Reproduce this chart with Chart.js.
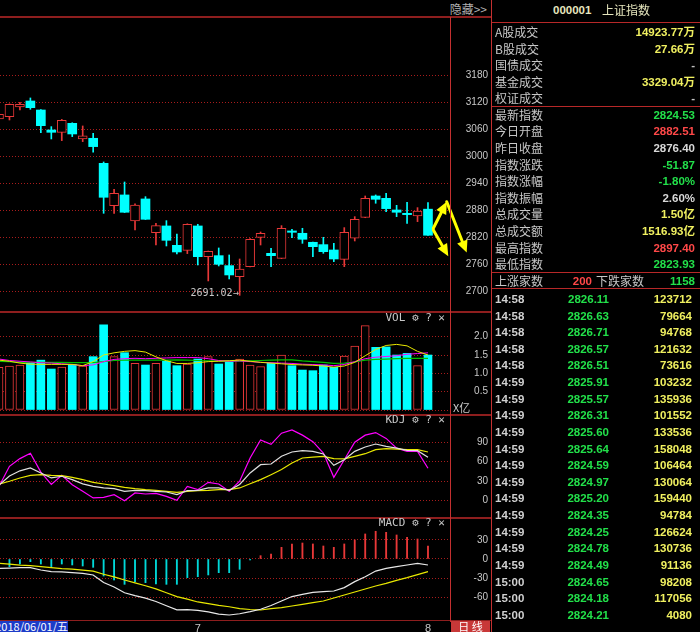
<!DOCTYPE html>
<html>
<head>
<meta charset="utf-8">
<title>上证指数 日线</title>
<script src="https://cdn.jsdelivr.net/npm/chart.js@4.4.1/dist/chart.umd.min.js"></script>
<style>
  html, body { margin: 0; padding: 0; background: #000; }
  body { width: 700px; height: 632px; position: relative; overflow: hidden;
         font-family: "Noto Sans CJK SC", "DejaVu Sans", sans-serif; color: #c0c0c0; }
  canvas { position: absolute; left: 0; }
  .abs { position: absolute; white-space: nowrap; }
  .sep { position: absolute; background: #8e1e1e; }
  .vline { position: absolute; background: #c43030; width: 1px; }
  .rline { position: absolute; background: #b82828; height: 1px; left: 492px; width: 208px; }
  .num { font-family: "Liberation Sans", "Noto Sans CJK SC", sans-serif; font-weight: bold; font-size: 11.5px; }
  .cjk { font-size: 12px; }
  .ptitle { position: absolute; right: 255px; font: 11px "DejaVu Sans Mono", monospace; color: #c8c8c8; line-height: 12px; }
</style>
</head>
<body>
<div class="abs" style="left:0;top:0;width:487px;height:17px;line-height:17px;text-align:right;font-size:12px;color:#b0b0b0">隐藏&gt;&gt;</div>

<canvas id="kline" width="492" height="294" style="top:18px"></canvas>
<canvas id="vol" width="492" height="101" style="top:313px"></canvas>
<canvas id="kdj" width="492" height="102" style="top:416px"></canvas>
<canvas id="macd" width="492" height="113" style="top:519px"></canvas>

<div class="sep" style="left:0;top:16px;width:491px;height:2px"></div>
<div class="sep" style="left:0;top:311px;width:491px;height:2px"></div>
<div class="sep" style="left:0;top:414px;width:491px;height:2px"></div>
<div class="sep" style="left:0;top:517px;width:491px;height:2px"></div>
<div class="sep" style="left:0;top:620px;width:491px;height:1px"></div>
<div class="vline" style="left:450px;top:17px;height:604px"></div>
<div class="vline" style="left:491px;top:0;height:632px"></div>

<div class="ptitle" style="top:312px">VOL ⚙ ? ✕</div>
<div class="ptitle" style="top:414px">KDJ ⚙ ? ✕</div>
<div class="ptitle" style="top:517px">MACD ⚙ ? ✕</div>
<div class="abs" style="left:453px;top:400px;font-size:11px;line-height:14px;color:#c8c8c8">X亿</div>

<div class="abs" id="cursorDate" style="left:0;top:621px;width:68px;height:11px;line-height:11px;background:#1c3cc8;color:#fff;font-size:11px;text-align:right;overflow:hidden;direction:rtl"></div>
<div class="abs" style="left:451px;top:621px;width:39px;height:11px;line-height:11px;background:#c83838;color:#fff;font-size:11px;text-align:center">日 线</div>

<div class="rline" style="top:22px"></div>
<div class="rline" style="top:106px"></div>
<div class="rline" style="top:272px"></div>
<div class="rline" style="top:288px"></div>
<div id="quote"></div>

<script>
// ---------- data ----------
const cursorDate = '2018/06/01/五';
const dates = [
  '2018-06-04','2018-06-05','2018-06-06','2018-06-07','2018-06-08','2018-06-11','2018-06-12','2018-06-13','2018-06-14','2018-06-15',
  '2018-06-19','2018-06-20','2018-06-21','2018-06-22','2018-06-25','2018-06-26','2018-06-27','2018-06-28','2018-06-29',
  '2018-07-02','2018-07-03','2018-07-04','2018-07-05','2018-07-06','2018-07-09','2018-07-10','2018-07-11','2018-07-12','2018-07-13',
  '2018-07-16','2018-07-17','2018-07-18','2018-07-19','2018-07-20','2018-07-23','2018-07-24','2018-07-25','2018-07-26','2018-07-27',
  '2018-07-30','2018-07-31','2018-08-01'
];
const opens = [3082.9,3088.1,3109.6,3122.9,3102.9,3058.5,3053.3,3073.3,3038.5,3040.0,
  2984.4,2890.4,2914.1,2856.3,2905.2,2830.4,2845.2,2802.2,2791.1,2845.2,
  2777.0,2779.2,2757.0,2732.6,2754.8,2820.0,2784.4,2773.3,2834.1,2828.9,
  2808.9,2803.7,2791.8,2771.1,2817.8,2864.4,2911.8,2906.6,2880.7,2873.3,
  2867.4,2882.51];
const highs = [3095.0,3116.5,3120.0,3129.6,3104.0,3065.9,3082.0,3074.5,3067.4,3051.1,
  2987.4,2926.6,2942.9,2894.1,2910.3,2851.1,2857.0,2827.4,2850.0,2848.9,
  2789.5,2796.3,2780.7,2771.8,2817.0,2831.8,2795.6,2845.9,2837.8,2840.0,
  2809.5,2820.0,2806.6,2841.5,2865.9,2911.8,2914.1,2917.8,2891.1,2897.8,
  2885.9,2897.40];
const lows = [3080.0,3080.7,3102.9,3104.4,3052.6,3038.5,3034.8,3043.7,3032.6,3008.9,
  2873.3,2873.3,2875.0,2836.3,2859.5,2802.9,2800.7,2782.9,2783.7,2758.5,
  2723.0,2756.3,2727.4,2691.02,2754.0,2802.9,2754.8,2772.5,2819.2,2806.6,
  2777.0,2784.4,2765.9,2754.8,2811.8,2863.5,2895.6,2877.0,2865.9,2851.1,
  2854.8,2823.93];
const closes = [3093.3,3115.5,3115.5,3108.1,3068.1,3053.3,3080.0,3049.6,3045.2,3021.5,
  2908.9,2917.8,2875.6,2891.8,2860.0,2845.9,2813.3,2787.4,2848.9,2777.0,
  2788.9,2760.0,2736.3,2749.6,2815.6,2828.9,2779.2,2840.0,2831.1,2815.6,
  2799.2,2788.1,2771.8,2831.1,2860.0,2906.6,2904.4,2883.7,2875.6,2870.4,
  2878.5,2824.53];

// volume in 亿
const volumes = [1.165,1.20,1.227,1.30,1.36,1.118,1.173,1.245,1.20,1.455,
  2.32,1.455,1.564,1.273,1.227,1.273,1.336,1.209,1.255,1.39,
  1.455,1.255,1.318,1.39,1.227,1.182,1.273,1.50,1.209,1.09,
  1.073,1.227,1.164,1.473,1.745,2.30,1.71,1.72,1.50,1.545,
  1.209,1.50];
const volMa5 = [1.36,1.33,1.28,1.25,1.245,1.245,1.245,1.245,1.21,1.32,
  1.50,1.56,1.60,1.62,1.58,1.45,1.345,1.27,1.27,1.29,
  1.32,1.33,1.345,1.36,1.33,1.30,1.28,1.26,1.24,1.23,
  1.22,1.20,1.17,1.20,1.30,1.48,1.65,1.76,1.79,1.75,
  1.60,1.50];
const volMa10 = [1.39,1.35,1.33,1.31,1.29,1.28,1.26,1.24,1.21,1.23,
  1.32,1.38,1.40,1.41,1.40,1.41,1.42,1.43,1.43,1.43,
  1.40,1.35,1.33,1.34,1.32,1.30,1.29,1.28,1.27,1.25,
  1.24,1.23,1.21,1.24,1.32,1.40,1.44,1.46,1.48,1.52,
  1.54,1.56];
const volMa20 = [1.33,1.32,1.30,1.30,1.30,1.30,1.30,1.29,1.29,1.29,
  1.32,1.35,1.36,1.36,1.36,1.36,1.36,1.37,1.36,1.35,
  1.34,1.34,1.33,1.33,1.34,1.35,1.36,1.37,1.37,1.34,
  1.32,1.30,1.27,1.28,1.31,1.36,1.38,1.39,1.40,1.41,
  1.41,1.41];

const kdjK = [24,38,46,50.4,42.7,35,37.6,32.4,26,22,
  19.6,18.5,14.4,16,15.4,14.4,13.4,9.3,15.4,16,
  19.6,19.6,16,25,42.7,55.5,56.5,68.4,75,77,
  76,72,54.5,63,76,82.7,87.3,83.7,81,77.6,
  77,67];
const kdjD = [25.5,30,35,39,40.2,39,38.6,36,32.4,28.3,
  25.7,23.1,20.5,18.5,17,16,14.4,12.9,14.4,15.4,
  16,17,17,19.6,26,32.4,40,48,58,65.8,
  67,68.4,64.8,64.3,68.4,72.4,78.6,80.2,79.6,78.6,
  78.6,75];
const kdjJ = [22,53,64.8,73,44,25,39,24.7,14.4,4.2,
  5.2,9.3,0,11.9,10.3,11.3,6.7,0.5,22,17,
  28.3,25.7,14.4,30,65.8,93.5,86.9,104,109,101,
  91,73.5,36,63,90,101,105,96,81,76,
  76,50];

const macdDif = [-14.7,-14.2,-13.5,-13.5,-17.3,-19.9,-20.4,-21.5,-22.5,-25.1,
  -37,-44,-53,-57.5,-61.5,-66.7,-73.5,-80,-79.5,-80.7,
  -83.2,-86.5,-88,-86,-82.7,-79,-73,-66,-59,-55.5,
  -52.4,-51.3,-50.3,-45,-35.6,-27.8,-19,-14.7,-12,-9.4,
  -6.8,-9.4];
const macdDea = [-6.8,-8,-9.5,-10.5,-12,-13.6,-15,-16,-17.5,-19,
  -24,-28,-33,-37.6,-42,-47,-53,-59.2,-63,-67.5,
  -70,-72.8,-75,-78,-79.3,-80.1,-78,-76.5,-73.8,-71.2,
  -68.6,-66,-61.3,-56.6,-51.8,-47.1,-42.4,-38.2,-33.5,-29.3,
  -24.6,-19.9];
const macdBar = [-10,-12,-7.9,-4.2,-7.9,-12,-7.9,-9.4,-11,-13.1,
  -26.7,-33,-39.8,-35.6,-37.2,-39.3,-39.8,-39.8,-29.3,-27.8,
  -25.1,-21.5,-21.5,-16.2,-1.5,5.2,7.9,18.3,23.6,25.1,
  23.6,20.4,18.3,23.6,29.9,39.3,43.5,41.9,37.7,34,
  31.4,20.4];

const priceTicks = [2700, 2760, 2820, 2880, 2940, 3000, 3060, 3120, 3180];
const volTicks = [0, 0.5, 1.0, 1.5, 2.0];
const kdjTicks = [0, 30, 60, 90];
const macdTicks = [-60, -30, 0, 30];

// hand-drawn arrows on the last candle, in (index, price) units
const arrows = [
  { from: [41.51, 2840], to: [42.79, 2899] },
  { from: [41.51, 2836], to: [42.94, 2778] },
  { from: [42.79, 2899], to: [44.70, 2786] }
];

// quote panel
const stockCode = '000001';
const stockName = '上证指数';
const tradeLabels = ['A股成交', 'B股成交', '国债成交', '基金成交', '权证成交'];
const tradeValues = ['14923.77万', '27.66万', '-', '3329.04万', '-'];
const indexLabels = ['最新指数', '今日开盘', '昨日收盘', '指数涨跌', '指数涨幅', '指数振幅', '总成交量', '总成交额', '最高指数', '最低指数'];
const indexValues = ['2824.53', '2882.51', '2876.40', '-51.87', '-1.80%', '2.60%', '1.50亿', '1516.93亿', '2897.40', '2823.93'];
const indexKinds = ['down', 'up', 'flat', 'down', 'down', 'flat', 'vol', 'vol', 'up', 'down'];
const advancers = 200;
const decliners = 1158;
const tickTimes = ['14:58','14:58','14:58','14:58','14:58','14:59','14:59','14:59','14:59','14:59',
  '14:59','14:59','14:59','14:59','14:59','14:59','14:59','15:00','15:00','15:00'];
const tickPrices = ['2826.11','2826.63','2826.71','2826.57','2826.51','2825.91','2825.57','2826.31','2825.60','2825.64',
  '2824.59','2824.97','2825.20','2824.35','2824.25','2824.78','2824.49','2824.65','2824.18','2824.21'];
const tickVols = [123712, 79664, 94768, 121632, 73616, 103232, 135936, 101552, 133536, 158048,
  106464, 130064, 159440, 94784, 126624, 130736, 91136, 98208, 117056, 4080];

// ---------- styles ----------
const UP = '#e83838';
const DOWN = '#00ffff';
const GRID_RED = '#a81c1c';
const AXIS_RED = '#c43030';
const LABEL = '#c8c8c8';
const X_MIN = 0.0956, X_MAX = 43.104;

Chart.defaults.font.family = 'Liberation Sans';

const isUp = opens.map((o, i) => closes[i] >= o);
const monthStarts = dates.map((d, i) => i).filter(i => i > 0 && dates[i].slice(5, 7) !== dates[i - 1].slice(5, 7));

function xAxis(show) {
  return {
    type: 'linear', min: X_MIN, max: X_MAX, offset: false, display: show,
    grid: { display: false, drawTicks: false, offset: false },
    border: { display: false },
    afterBuildTicks: s => { s.ticks = monthStarts.map(i => ({ value: i })); },
    afterFit: s => {
      s.height = show ? 11 : 0;
      s.paddingLeft = 0; s.paddingRight = 0;
    },
    ticks: {
      color: LABEL, padding: 1, autoSkip: false, maxRotation: 0,
      font: { size: 11 },
      callback: v => String(parseInt(dates[v].slice(5, 7), 10))
    }
  };
}

function yAxis(min, max, values, fmt) {
  return {
    type: 'linear', position: 'right', min, max, beginAtZero: false,
    afterBuildTicks: s => { s.ticks = values.map(v => ({ value: v })); },
    afterFit: s => { s.width = 38; s.paddingTop = 0; s.paddingBottom = 0; },
    grid: { color: GRID_RED, lineWidth: 1, drawTicks: false },
    border: { display: true, color: AXIS_RED, width: 1, dash: [1, 2] },
    ticks: { color: LABEL, padding: 0, crossAlign: 'far', autoSkip: false, font: { size: 10 }, callback: fmt }
  };
}

function baseOptions(scales) {
  return {
    responsive: false, animation: false, events: [],
    layout: { padding: { left: 0, right: 4, top: 0, bottom: 0 } },
    plugins: { legend: { display: false }, tooltip: { enabled: false } },
    scales
  };
}

function line(data, color, width) {
  return {
    type: 'line', data: data.map((v, i) => ({ x: i, y: v })),
    borderColor: color, borderWidth: width || 1, pointRadius: 0, tension: 0, fill: false
  };
}

// lowest low label with arrow
const lowLabel = {
  id: 'lowLabel',
  afterDatasetsDraw(chart) {
    let idx = 0;
    lows.forEach((v, i) => { if (v < lows[idx]) idx = i; });
    const x = chart.scales.x.getPixelForValue(idx);
    const y = chart.scales.y.getPixelForValue(lows[idx]);
    const ctx = chart.ctx;
    ctx.save();
    ctx.font = '10px "DejaVu Sans Mono", monospace';
    ctx.fillStyle = LABEL;
    ctx.textAlign = 'right';
    ctx.textBaseline = 'middle';
    ctx.fillText(lows[idx].toFixed(2) + '→', x - 1, y - 2);
    ctx.restore();
  }
};

const arrowMarks = {
  id: 'arrowMarks',
  afterDraw(chart) {
    const { ctx, scales: { x, y } } = chart;
    ctx.save();
    ctx.strokeStyle = '#ffff00';
    ctx.fillStyle = '#ffff00';
    ctx.lineCap = 'round';
    arrows.forEach(a => {
      const x1 = x.getPixelForValue(a.from[0]), y1 = y.getPixelForValue(a.from[1]);
      const x2 = x.getPixelForValue(a.to[0]), y2 = y.getPixelForValue(a.to[1]);
      const ang = Math.atan2(y2 - y1, x2 - x1);
      const head = 12, half = 5.5;
      const bx = x2 - head * Math.cos(ang), by = y2 - head * Math.sin(ang);
      ctx.lineWidth = 3;
      ctx.beginPath(); ctx.moveTo(x1, y1); ctx.lineTo(bx, by); ctx.stroke();
      ctx.beginPath();
      ctx.moveTo(x2, y2);
      ctx.lineTo(bx + half * Math.sin(ang), by - half * Math.cos(ang));
      ctx.lineTo(bx - half * Math.sin(ang), by + half * Math.cos(ang));
      ctx.closePath();
      ctx.fill();
    });
    ctx.restore();
  }
};

// ---------- K line ----------
new Chart(document.getElementById('kline'), {
  type: 'bar',
  data: {
    datasets: [
      {
        data: opens.map((o, i) => ({ x: i, y: [o, closes[i]] })),
        backgroundColor: isUp.map(u => u ? '#000' : DOWN),
        borderColor: isUp.map(u => u ? UP : DOWN),
        borderWidth: isUp.map(u => u ? 1 : 0),
        borderSkipped: false, barThickness: 9, grouped: false, minBarLength: 1
      },
      {
        data: lows.map((l, i) => ({ x: i, y: [l, highs[i]] })),
        backgroundColor: isUp.map(u => u ? UP : DOWN),
        borderWidth: 0, barThickness: 1, grouped: false
      }
    ]
  },
  options: baseOptions({
    x: xAxis(false),
    y: yAxis(2654.0, 3307.3, priceTicks, v => String(v))
  }),
  plugins: [lowLabel, arrowMarks]
});

// ---------- VOL ----------
new Chart(document.getElementById('vol'), {
  type: 'bar',
  data: {
    datasets: [
      line(volMa5, '#e8e800'),
      line(volMa10, '#ff00ff'),
      line(volMa20, '#00c000', 1.2),
      {
        data: volumes.map((v, i) => ({ x: i, y: v })),
        backgroundColor: isUp.map(u => u ? '#000' : DOWN),
        borderColor: isUp.map(u => u ? UP : DOWN),
        borderWidth: isUp.map(u => u ? 1 : 0),
        borderSkipped: false, barThickness: 8
      }
    ]
  },
  options: baseOptions({
    x: xAxis(false),
    y: yAxis(-0.109, 2.646, volTicks, v => v === 0 ? '' : v.toFixed(1))
  })
});

// ---------- KDJ ----------
new Chart(document.getElementById('kdj'), {
  type: 'line',
  data: {
    datasets: [
      line(kdjK, '#e0e0e0', 1.2),
      line(kdjD, '#e8e800', 1.2),
      line(kdjJ, '#ff00ff', 1.2)
    ]
  },
  options: baseOptions({
    x: xAxis(false),
    y: yAxis(-26.7, 130.5, kdjTicks, v => String(v))
  })
});

// ---------- MACD ----------
new Chart(document.getElementById('macd'), {
  type: 'bar',
  data: {
    datasets: [
      line(macdDif, '#e8e8e8', 1.2),
      line(macdDea, '#e8e800', 1.2),
      {
        data: macdBar.map((v, i) => ({ x: i, y: v })),
        backgroundColor: macdBar.map(v => v >= 0 ? UP : '#00d8d8'),
        borderWidth: 0, barThickness: 1.2
      }
    ]
  },
  options: baseOptions({
    x: xAxis(true),
    y: yAxis(-97.4, 62.8, macdTicks, v => String(v))
  })
});

// ---------- quote panel ----------
document.getElementById('cursorDate').textContent = '\u200E' + cursorDate + ' ';

const COLORS = { up: '#ff4848', down: '#22e04a', flat: '#d8d8d8', vol: '#f0f060', dash: '#c0c0c0' };
const ROW_H = 16.6;
const quote = document.getElementById('quote');

function cell(text, opt) {
  const d = document.createElement('div');
  d.className = 'abs ' + (opt.cls || '');
  d.textContent = text;
  d.style.top = opt.top + 'px';
  d.style.height = ROW_H + 'px';
  d.style.lineHeight = ROW_H + 'px';
  d.style.color = opt.color || LABEL;
  if (opt.left !== undefined) d.style.left = opt.left + 'px';
  if (opt.right !== undefined) d.style.right = (700 - opt.right) + 'px';
  quote.appendChild(d);
}

cell(stockCode, { left: 553, top: 2, cls: 'num', color: '#e6e6be' });
cell(stockName, { left: 602, top: 2, cls: 'cjk', color: '#e6e6be' });

tradeLabels.forEach((t, i) => {
  const top = 24 + i * ROW_H;
  cell(t, { left: 495, top, cls: 'cjk' });
  cell(tradeValues[i], { right: 695, top, cls: 'num', color: tradeValues[i] === '-' ? COLORS.dash : COLORS.vol });
});

indexLabels.forEach((t, i) => {
  const top = 106.7 + i * ROW_H;
  cell(t, { left: 495, top, cls: 'cjk' });
  cell(indexValues[i], { right: 695, top, cls: 'num', color: COLORS[indexKinds[i]] });
});

cell('上涨家数', { left: 495, top: 272.7, cls: 'cjk' });
cell(String(advancers), { right: 592, top: 272.7, cls: 'num', color: COLORS.up });
cell('下跌家数', { left: 596, top: 272.7, cls: 'cjk' });
cell(String(decliners), { right: 695, top: 272.7, cls: 'num', color: COLORS.down });

tickTimes.forEach((t, i) => {
  const top = 291 + i * 16.62;
  cell(t, { left: 495, top, cls: 'num', color: '#d0d0d0' });
  cell(tickPrices[i], { right: 609, top, cls: 'num', color: COLORS.down });
  cell(String(tickVols[i]), { right: 692, top, cls: 'num', color: COLORS.vol });
});
</script>
</body>
</html>
